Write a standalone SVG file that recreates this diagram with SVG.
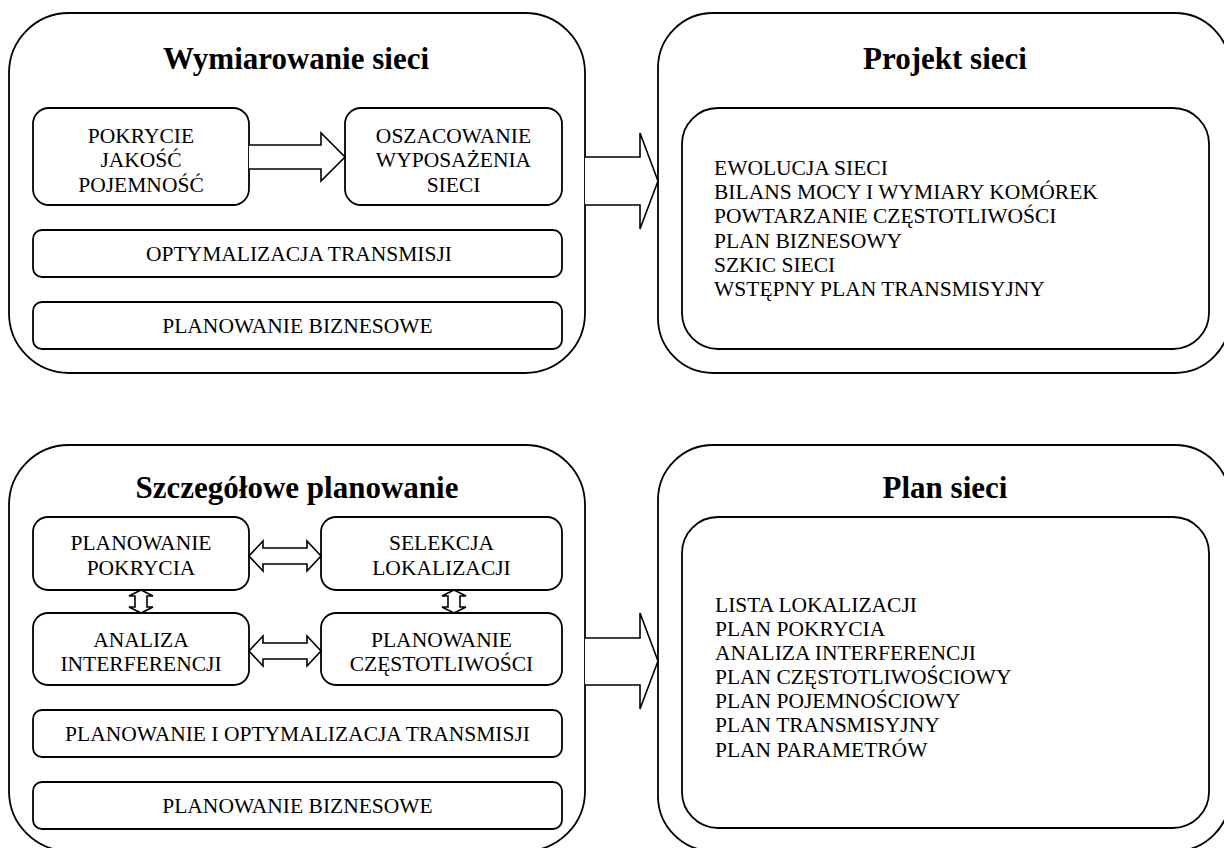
<svg xmlns="http://www.w3.org/2000/svg" width="1224" height="848" viewBox="0 0 1224 848">
<style>
.box{fill:#fff;stroke:#000;stroke-width:1.8}
.outer{fill:#fff;stroke:#000;stroke-width:1.8}
.arr{fill:#fff;stroke:#000;stroke-width:1.6;stroke-linejoin:miter}
text{font-family:"Liberation Serif","Times New Roman",serif;fill:#000}
.t{font-size:21.5px}
.c{text-anchor:middle}
.title{font-size:31px;font-weight:bold;text-anchor:middle}
</style>
<rect width="1224" height="848" fill="#fff"/>
<g id="wymiarowanie">
<rect class="outer" x="9" y="13" width="576" height="360" rx="60"/>
<text class="title" x="296" y="69">Wymiarowanie sieci</text>
</g>
<g id="pokrycie">
<rect class="box" x="33" y="108" width="216" height="97" rx="16"/>
<text class="t c" x="141" y="143">POKRYCIE</text>
<text class="t c" x="141" y="167">JAKOŚĆ</text>
<text class="t c" x="141" y="192">POJEMNOŚĆ</text>
</g>
<g id="oszacowanie">
<rect class="box" x="345" y="108" width="217" height="97" rx="16"/>
<text class="t c" x="453.5" y="143">OSZACOWANIE</text>
<text class="t c" x="453.5" y="167">WYPOSAŻENIA</text>
<text class="t c" x="453.5" y="192">SIECI</text>
</g>
<g id="optymalizacja1">
<rect class="box" x="33" y="230" width="529" height="47" rx="9"/>
<text class="t c" x="299" y="261">OPTYMALIZACJA TRANSMISJI</text>
</g>
<g id="biznes1">
<rect class="box" x="33" y="302" width="529" height="47" rx="9"/>
<text class="t c" x="297.5" y="333">PLANOWANIE BIZNESOWE</text>
</g>
<g id="projekt">
<rect class="outer" x="658" y="13" width="572" height="360" rx="55"/>
<text class="title" x="945" y="69">Projekt sieci</text>
<rect class="box" x="682" y="108" width="527" height="241" rx="36"/>
<text class="t" x="714" y="175">EWOLUCJA SIECI</text>
<text class="t" x="714" y="199">BILANS MOCY I WYMIARY KOMÓREK</text>
<text class="t" x="714" y="223">POWTARZANIE CZĘSTOTLIWOŚCI</text>
<text class="t" x="714" y="248">PLAN BIZNESOWY</text>
<text class="t" x="714" y="272">SZKIC SIECI</text>
<text class="t" x="714" y="296">WSTĘPNY PLAN TRANSMISYJNY</text>
</g>
<g id="szczegolowe">
<rect class="outer" x="9" y="445" width="576" height="406" rx="60"/>
<text class="title" x="297" y="498">Szczegółowe planowanie</text>
</g>
<g id="planowanie-pokrycia">
<rect class="box" x="33" y="517" width="216" height="73" rx="15"/>
<text class="t c" x="141" y="550">PLANOWANIE</text>
<text class="t c" x="141" y="575">POKRYCIA</text>
</g>
<g id="selekcja">
<rect class="box" x="321" y="517" width="241" height="73" rx="15"/>
<text class="t c" x="441.5" y="550">SELEKCJA</text>
<text class="t c" x="441.5" y="575">LOKALIZACJI</text>
</g>
<g id="analiza">
<rect class="box" x="33" y="613" width="216" height="72" rx="15"/>
<text class="t c" x="141" y="647">ANALIZA</text>
<text class="t c" x="141" y="671">INTERFERENCJI</text>
</g>
<g id="czestotliwosci">
<rect class="box" x="321" y="613" width="241" height="72" rx="15"/>
<text class="t c" x="441.5" y="647">PLANOWANIE</text>
<text class="t c" x="441.5" y="671">CZĘSTOTLIWOŚCI</text>
</g>
<g id="optymalizacja2">
<rect class="box" x="33" y="710" width="529" height="47" rx="9"/>
<text class="t c" x="297.5" y="741">PLANOWANIE I OPTYMALIZACJA TRANSMISJI</text>
</g>
<g id="biznes2">
<rect class="box" x="33" y="782" width="529" height="47" rx="9"/>
<text class="t c" x="297.5" y="813">PLANOWANIE BIZNESOWE</text>
</g>
<g id="plan">
<rect class="outer" x="658" y="445" width="572" height="406" rx="55"/>
<text class="title" x="945" y="498">Plan sieci</text>
<rect class="box" x="682" y="517" width="527" height="311" rx="36"/>
<text class="t" x="715" y="612">LISTA LOKALIZACJI</text>
<text class="t" x="715" y="636">PLAN POKRYCIA</text>
<text class="t" x="715" y="660">ANALIZA INTERFERENCJI</text>
<text class="t" x="715" y="684">PLAN CZĘSTOTLIWOŚCIOWY</text>
<text class="t" x="715" y="708">PLAN POJEMNOŚCIOWY</text>
<text class="t" x="715" y="732">PLAN TRANSMISYJNY</text>
<text class="t" x="715" y="757">PLAN PARAMETRÓW</text>
</g>
<g id="connectors">
<path class="arr" d="M249,145 H321 V133 L345,157 L321,181 V169 H249"/>
<path class="arr" d="M585,157 H640 V133 L658,181 L640,229 V205 H585"/>
<path class="arr" d="M585,638 H640 V613 L658,661 L640,709 V685 H585"/>
<path class="arr" d="M249,556 L263,541 V548 H307 V541 L321,556 L307,571 V564 H263 V571 Z"/>
<path class="arr" d="M249,651 L263,636 V643 H307 V636 L321,651 L307,666 V659 H263 V666 Z"/>
<path class="arr" d="M141,590 L153,596 H147 V607 H153 L141,613 L129,607 H135 V596 H129 Z"/>
<path class="arr" d="M454,590 L466,596 H460 V607 H466 L454,613 L442,607 H448 V596 H442 Z"/>
</g>
</svg>
